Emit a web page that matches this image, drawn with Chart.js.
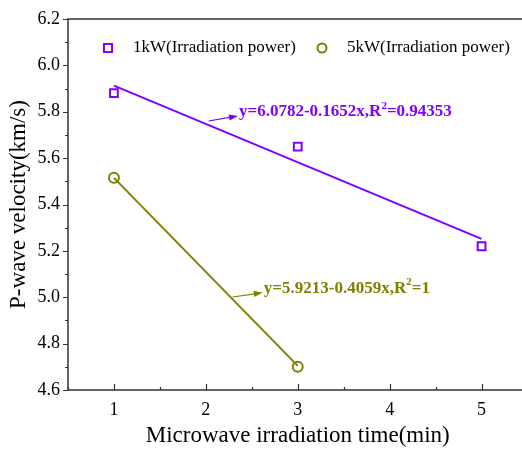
<!DOCTYPE html>
<html>
<head>
<meta charset="utf-8">
<script src="https://cdn.jsdelivr.net/npm/chart.js@4.4.1/dist/chart.umd.min.js"></script>
<style>
  html, body { margin: 0; padding: 0; background: #fff; overflow: hidden; }
  #wrap { width: 535px; height: 450px; }
</style>
</head>
<body>
<div id="wrap"><canvas id="c" width="535" height="450"></canvas></div>
<script>
// ---- datos ----
const xTicks = [1, 2, 3, 4, 5];
const yTicks = [4.6, 4.8, 5.0, 5.2, 5.4, 5.6, 5.8, 6.0, 6.2];

const time1kW = [1, 3, 5];
const vel1kW = [5.88, 5.65, 5.22];
const time5kW = [1, 3];
const vel5kW = [5.515, 4.70];

// rectas de ajuste (extremos)
const fitX1kW = [1, 5];
const fitY1kW = [5.913, 5.252];
const fitX5kW = [1, 3];
const fitY5kW = [5.515, 4.704];

const labels = ['1kW(Irradiation power)', '5kW(Irradiation power)'];
// ecuacion partida: [antes del superindice, superindice, despues]
const eqParts = [['y=6.0782-0.1652x,R', '2', '=0.94353'], ['y=5.9213-0.4059x,R', '2', '=1']];
// flecha: [x0, y0, x1, y1] en unidades de datos
const eqArrow = [[2.03, 5.760, 2.35, 5.782], [2.29, 5.001, 2.62, 5.020]];

const PURPLE = '#8000FF';
const OLIVE = '#808000';
const AXIS = '#333333';
const SERIF = '"Liberation Serif", "Times New Roman", serif';

const pts = (xs, ys) => xs.map((x, i) => ({ x, y: ys[i] }));

// ---- ejes, ticks menores, leyenda y ecuaciones ----
const decor = {
  id: 'decor',
  afterDraw(chart) {
    const { ctx, chartArea: a, scales: { x, y } } = chart;
    ctx.save();
    ctx.strokeStyle = AXIS;
    ctx.lineWidth = 1.5;
    // izquierda, abajo y arriba (el borde derecho queda fuera de la imagen)
    ctx.beginPath();
    ctx.moveTo(a.right, a.top); ctx.lineTo(a.left, a.top);
    ctx.lineTo(a.left, a.bottom); ctx.lineTo(a.right, a.bottom);
    ctx.stroke();

    ctx.lineWidth = 1.2;
    ctx.beginPath();
    for (let i = 0; i <= 16; i++) {
      const py = Math.round(y.getPixelForValue(4.6 + i * 0.1)) + 0.5;
      const len = i % 2 === 0 ? 5 : 3;
      ctx.moveTo(a.left - len, py); ctx.lineTo(a.left, py);
    }
    for (let i = 0; i <= 10; i++) {
      const px = Math.round(x.getPixelForValue(0.5 + i * 0.5)) + 0.5;
      const len = i % 2 === 1 ? 6 : 3;
      ctx.moveTo(px, a.bottom); ctx.lineTo(px, a.bottom - len);
    }
    ctx.stroke();

    // leyenda
    ctx.font = '17px ' + SERIF;
    ctx.textBaseline = 'middle';
    ctx.textAlign = 'left';
    ctx.lineWidth = 2;
    ctx.strokeStyle = PURPLE;
    ctx.strokeRect(104, 44, 8, 8);
    ctx.fillStyle = '#000';
    ctx.fillText(labels[0], 133, 48);
    ctx.strokeStyle = OLIVE;
    ctx.beginPath(); ctx.arc(322, 48, 4.5, 0, Math.PI * 2); ctx.stroke();
    ctx.fillText(labels[1], 347, 48);

    // ecuaciones con flecha
    const cols = [PURPLE, OLIVE];
    eqArrow.forEach((ar, i) => {
      const x0 = x.getPixelForValue(ar[0]), y0 = y.getPixelForValue(ar[1]);
      const x1 = x.getPixelForValue(ar[2]), y1 = y.getPixelForValue(ar[3]);
      ctx.strokeStyle = cols[i]; ctx.fillStyle = cols[i];
      ctx.lineWidth = 1.2;
      ctx.beginPath(); ctx.moveTo(x0, y0); ctx.lineTo(x1 - 6, y1 + 1); ctx.stroke();
      const ang = Math.atan2(y1 - y0, x1 - x0);
      ctx.beginPath();
      ctx.moveTo(x1, y1);
      ctx.lineTo(x1 - 9 * Math.cos(ang) + 3 * Math.sin(ang), y1 - 9 * Math.sin(ang) - 3 * Math.cos(ang));
      ctx.lineTo(x1 - 9 * Math.cos(ang) - 3 * Math.sin(ang), y1 - 9 * Math.sin(ang) + 3 * Math.cos(ang));
      ctx.closePath(); ctx.fill();
      const [p1, sup, p2] = eqParts[i];
      let tx = x1 + 1;
      const ty = y1 - 4;
      ctx.font = 'bold 17px ' + SERIF;
      ctx.fillText(p1, tx, ty);
      tx += ctx.measureText(p1).width;
      ctx.font = 'bold 11px ' + SERIF;
      ctx.fillText(sup, tx, ty - 6);
      tx += ctx.measureText(sup).width;
      ctx.font = 'bold 17px ' + SERIF;
      ctx.fillText(p2, tx, ty);
    });
    ctx.restore();
  }
};

new Chart(document.getElementById('c'), {
  type: 'scatter',
  data: {
    datasets: [
      { label: 'fit1', data: pts(fitX1kW, fitY1kW), showLine: true, borderColor: PURPLE, borderWidth: 2, pointRadius: 0 },
      { label: 'fit5', data: pts(fitX5kW, fitY5kW), showLine: true, borderColor: OLIVE, borderWidth: 2, pointRadius: 0 },
      { label: labels[0], data: pts(time1kW, vel1kW), pointStyle: 'rect', pointRadius: 5.5, borderWidth: 2,
        borderColor: PURPLE, backgroundColor: 'rgba(0,0,0,0)' },
      { label: labels[1], data: pts(time5kW, vel5kW), pointStyle: 'circle', pointRadius: 5, borderWidth: 2,
        borderColor: OLIVE, backgroundColor: 'rgba(0,0,0,0)' }
    ]
  },
  options: {
    responsive: false,
    animation: false,
    layout: { padding: { top: 19, left: 0, right: 2, bottom: 0 } },
    plugins: { legend: { display: false }, tooltip: { enabled: false } },
    scales: {
      x: {
        type: 'linear', min: 0.5, max: 5.5,
        afterBuildTicks: (s) => { s.ticks = xTicks.map(v => ({ value: v })); },
        afterFit: (s) => { s.height = 60; },
        grid: { display: false, drawTicks: false },
        border: { display: false },
        ticks: { color: '#000', font: { family: SERIF, size: 18 }, padding: 9 },
        title: { display: true, text: 'Microwave irradiation time(min)', color: '#000',
          font: { family: SERIF, size: 23 }, padding: { top: 0, bottom: 0 } }
      },
      y: {
        type: 'linear', min: 4.6, max: 6.2,
        afterBuildTicks: (s) => { s.ticks = yTicks.map(v => ({ value: v })); },
        afterFit: (s) => { s.width = 68; },
        grid: { display: false, drawTicks: false },
        border: { display: false },
        ticks: { color: '#000', font: { family: SERIF, size: 18 }, padding: 8,
          callback: (v) => Number(v).toFixed(1) },
        title: { display: true, text: 'P-wave velocity(km/s)', color: '#000',
          font: { family: SERIF, size: 23 }, padding: { top: 5, bottom: 0 } }
      }
    }
  },
  plugins: [decor]
});
</script>
</body>
</html>
